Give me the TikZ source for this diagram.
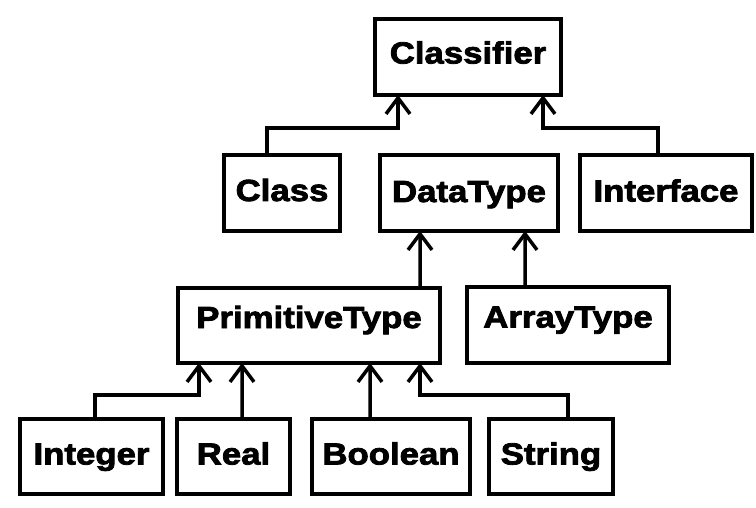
\documentclass[tikz,border=0pt]{standalone}
\usepackage{fontspec}
\usetikzlibrary{arrows.meta}
\newfontfamily\boxfont[FakeStretch=1.14, BoldFeatures={FakeBold=2.6}]{Liberation Sans}
\begin{document}
\begin{tikzpicture}[x=1bp, y=-1bp,
  box/.style={draw, line width=3.5bp, inner sep=0pt, outer sep=0pt,
    font=\boxfont\bfseries\fontsize{30.5bp}{31bp}\selectfont,
    text height=22bp},
  gen/.style={line width=3.5bp, -{Straight Barb[length=16bp, width=24bp]}}]
\fill[white] (0,0) rectangle (756,508);
\useasboundingbox (0,0) rectangle (756,508);

% metaclass hierarchy
\node[box, minimum width=186bp, minimum height=76bp, text depth=9bp] (classifier) at (468,57) {Classifier};
\node[box, minimum width=116bp, minimum height=76bp, text depth=6bp] (class) at (282,193) {Class};
\node[box, minimum width=178bp, minimum height=76bp, text depth=4bp] (datatype) at (469,193) {DataType};
\node[box, minimum width=172bp, minimum height=76bp, text depth=5bp] (interface) at (666,193) {Interface};
\node[box, minimum width=262bp, minimum height=75bp, text depth=17bp] (primitive) at (309,325.5) {PrimitiveType};
\node[box, minimum width=202bp, minimum height=76bp, text depth=17bp] (arraytype) at (568,325) {ArrayType};
\node[box, minimum width=143bp, minimum height=75bp, text depth=6bp] (integer) at (91.5,456.5) {Integer};
\node[box, minimum width=113bp, minimum height=75bp, text depth=6bp] (real) at (233.5,456.5) {Real};
\node[box, minimum width=158bp, minimum height=75bp, text depth=6bp] (boolean) at (391,456.5) {Boolean};
\node[box, minimum width=124bp, minimum height=75bp, text depth=6bp] (string) at (551,456.5) {String};

% generalisations
\draw[gen] ([xshift=-15bp]class.north) -- ++(0,-27) -| ([xshift=-70bp]classifier.south);
\draw[gen] ([xshift=-8bp]interface.north) -- ++(0,-27) -| ([xshift=75bp]classifier.south);
\draw[gen] ([xshift=111bp]primitive.north) -- ([xshift=-49bp]datatype.south);
\draw[gen] ([xshift=-43bp]arraytype.north) -- ([xshift=56bp]datatype.south);
\draw[gen] ([xshift=3.5bp]integer.north) -- ++(0,-24) -| ([xshift=-110bp]primitive.south);
\draw[gen] ([xshift=8.5bp]real.north) -- ([xshift=-67bp]primitive.south);
\draw[gen] ([xshift=-21bp]boolean.north) -- ([xshift=61bp]primitive.south);
\draw[gen] ([xshift=17bp]string.north) -- ++(0,-24) -| ([xshift=111bp]primitive.south);
\end{tikzpicture}
\end{document}
